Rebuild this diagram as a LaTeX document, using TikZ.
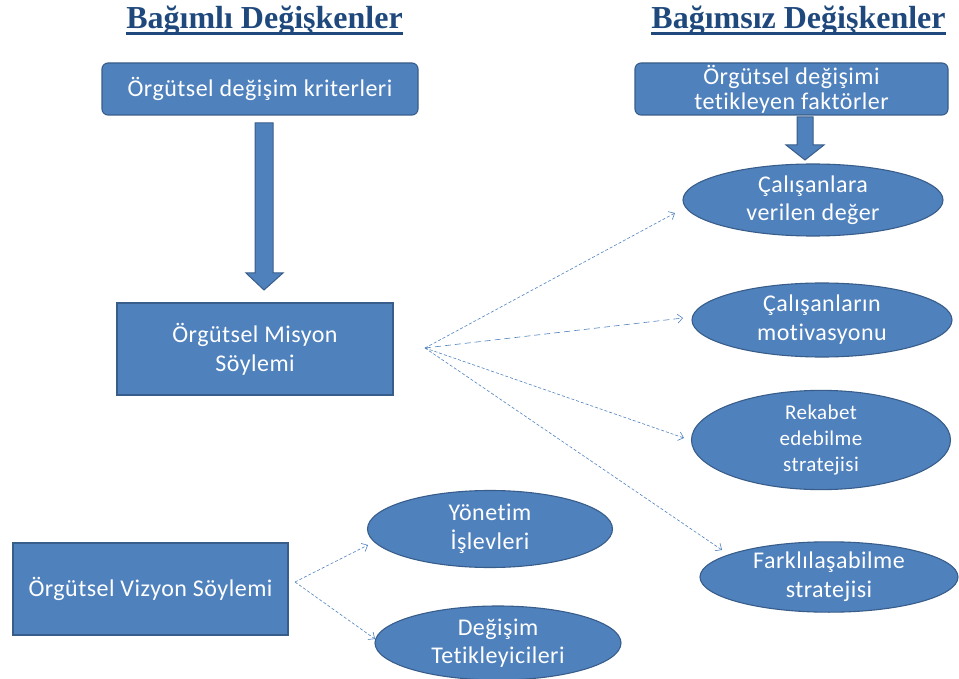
\documentclass[tikz,border=0pt]{standalone}
\usepackage{fontspec}
\setmainfont{Carlito}[Ligatures=NoCommon, LetterSpace=2]
\newfontfamily\titlefont{Liberation Serif}
\usetikzlibrary{shapes.geometric,arrows.meta,calc}
\definecolor{boxfill}{HTML}{4F81BD}
\definecolor{boxline}{HTML}{385D8A}
\definecolor{titleblue}{HTML}{1F497D}
\tikzset{
  box/.style={draw=boxline, line width=1.1pt, fill=boxfill, text=white, align=center,
    inner sep=0pt, font=\fontsize{24}{29}\selectfont},
  rbox/.style={box, rounded corners=6pt},
  ell/.style={box, ellipse},
  link/.style={draw=boxfill, line width=0.6pt, dash pattern=on 3pt off 2pt,
    -{Straight Barb[length=5pt,width=9pt]}},
  blockarrow/.style={draw=boxline, fill=boxfill, line width=1pt},
  title/.style={text=titleblue, font=\titlefont\bfseries\fontsize{32}{36}\selectfont, inner sep=0pt},
  uline/.style={draw=titleblue, line width=2.5pt}
}
\begin{document}
\begin{tikzpicture}[x=1pt,y=-1pt]
\useasboundingbox (0,0) rectangle (959,679);
% titles
\node[title, anchor=base] (t1) at (264.5,29) {Bağımlı Değişkenler};
\node[title, anchor=base] (t2) at (798.5,29) {Bağımsız Değişkenler};
\draw[uline] ($(t1.base west)+(0,4.3)$) -- ($(t1.base east)+(0,4.3)$);
\draw[uline] ($(t2.base west)+(0,4.3)$) -- ($(t2.base east)+(0,4.3)$);
% boxes
\node[rbox, minimum width=316pt, minimum height=52pt] (b1) at (260,89) {Örgütsel değişim kriterleri};
\node[rbox, minimum width=313pt, minimum height=52pt, font=\fontsize{24}{25}\selectfont] (b2) at (791.5,89) {Örgütsel değişimi\\tetikleyen faktörler};
\node[box, minimum width=276pt, minimum height=92pt] (b3) at (255,349) {Örgütsel Misyon\\Söylemi};
\node[box, minimum width=275pt, minimum height=92pt] (b4) at (150.5,589) {Örgütsel Vizyon Söylemi};
% ellipses
\node[ell, minimum width=260pt, minimum height=72pt, font=\fontsize{24}{28}\selectfont] (e1) at (813,200) {Çalışanlara\\verilen değer};
\node[ell, minimum width=260pt, minimum height=74pt] (e2) at (822,320) {Çalışanların\\motivasyonu};
\node[ell, minimum width=259pt, minimum height=75pt, font=\fontsize{21}{26}\selectfont] (e3) at (821,440) {Rekabet\\edebilme\\stratejisi};
\node[ell, minimum width=258pt, minimum height=67pt] (e4) at (829,577) {Farklılaşabilme\\stratejisi};
\node[ell, minimum width=245pt, minimum height=77pt] (e5) at (490,529) {Yönetim\\İşlevleri};
\node[ell, minimum width=246pt, minimum height=74pt, font=\fontsize{24}{28}\selectfont] (e6) at (498,643) {Değişim\\Tetikleyicileri};
% block arrows
\draw[blockarrow] (255,123) -- (273,123) -- (273,273) -- (283,273) -- (264,290) -- (246,273) -- (255,273) -- cycle;
\draw[blockarrow] (797,117) -- (813,117) -- (813,145) -- (824,145) -- (805,160) -- (786,145) -- (797,145) -- cycle;
% connectors
\coordinate (m) at (425,348);
\coordinate (m1) at (675,213);
\coordinate (m2) at (683,318);
\coordinate (m3) at (684,438);
\coordinate (m4) at (722,550);
\draw[link] (m) -- (m1);
\draw[link, dash pattern=on 6pt off 4pt] (m) -- (m2);
\draw[link] (m) -- (m3);
\draw[link] (m) -- (m4);
\coordinate (v) at (295,582);
\coordinate (v1) at (368,545);
\coordinate (v2) at (375,639);
\draw[link] (v) -- (v1);
\draw[link] (v) -- (v2);
\end{tikzpicture}
\end{document}
